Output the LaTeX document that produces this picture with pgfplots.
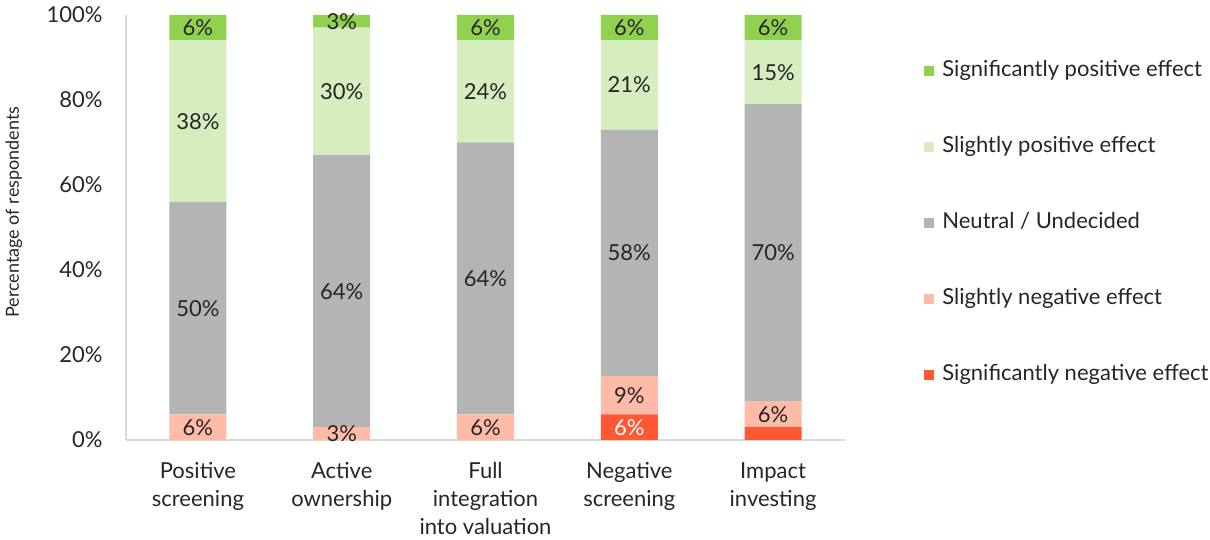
\documentclass[border=0pt]{standalone}
\usepackage{pgfplots}
\usepackage{pgfplotstable}
\pgfplotsset{compat=1.18}
\usepackage{fontspec}
\setmainfont{Lato}
\definecolor{spos}{HTML}{92D050}
\definecolor{wpos}{HTML}{D6EDC0}
\definecolor{neu}{HTML}{B4B4B4}
\definecolor{wneg}{HTML}{FFBAA8}
\definecolor{sneg}{HTML}{FF5833}
\definecolor{txt}{HTML}{262626}
\definecolor{axl}{HTML}{D9D9D9}
\pgfplotstableread{
x sneg wneg neu wpos spos
0 0 6 50 38 6
1 0 3 64 30 3
2 0 6 64 24 6
3 6 9 58 21 6
4 3 6 70 15 6
}\data
\pgfplotsset{
  lbl/.style={
    visualization depends on={\thisrow{#1} \as \rawy},
    point meta=\thisrow{#1},
    nodes near coords={\pgfmathprintnumber[fixed,precision=0]{\pgfplotspointmeta}\%},
    every node near coord/.append style={anchor=center, font=\fontsize{11}{13}\selectfont, text=txt},
  },
}
\begin{document}
\begin{tikzpicture}
\begin{axis}[
  scale only axis,
  width=359.5pt, height=212.5pt,
  ybar stacked, bar width=28.5pt,
  xmin=-0.5, xmax=4.5, ymin=0, ymax=100,
  enlargelimits=false,
  axis x line*=bottom, axis y line*=left,
  axis line style={draw=axl, line width=0.8pt, -},
  major tick length=0pt,
  xtick=data,
  xticklabels={{Positive\\screening},{Active\\ownership},{Full\\integration\\into valuation},{Negative\\screening},{Impact\\investing}},
  xticklabel style={align=center, anchor=north, inner sep=0pt, yshift=-11pt, font=\fontsize{11}{14}\selectfont, text=txt},
  ytick={0,20,40,60,80,100},
  yticklabel={\pgfmathprintnumber{\tick}\%},
  yticklabel style={anchor=east, inner sep=0pt, xshift=-11.5pt, font=\fontsize{11}{13}\selectfont, text=txt},
  /pgf/number format/assume math mode=true,
  ylabel={Percentage of respondents},
  every axis y label/.style={at={(axis description cs:-0.1558,0.536)}, rotate=90, anchor=center, font=\fontsize{9}{11}\selectfont, text=txt},
  legend style={at={(1.1015,0.5106)}, anchor=west, draw=none, fill=none,
    font=\fontsize{11}{13}\selectfont, text=txt, row sep=27.5pt, column sep=4pt,
    nodes={inner sep=0pt, text height=8pt, text depth=2.5pt}},
  legend cell align=left,
  reverse legend,
  legend image code/.code={\fill[#1] (0pt,-2.5pt) rectangle (5pt,2.5pt);},
]
\addplot[fill=sneg, draw=none,
  visualization depends on={\thisrow{sneg} \as \rawy},
  point meta=\thisrow{sneg},
  nodes near coords={\pgfmathparse{\rawy>4?1:0}\ifdim\pgfmathresult pt>0.5pt \pgfmathprintnumber[fixed,precision=0]{\pgfplotspointmeta}\%\fi},
  every node near coord/.append style={anchor=center, font=\fontsize{11}{13}\selectfont, text=white},
] table[x=x,y=sneg]{\data};
\addlegendentry{Significantly negative effect}
\addplot[fill=wneg, draw=none, lbl=wneg] table[x=x,y=wneg]{\data};
\addlegendentry{Slightly negative effect}
\addplot[fill=neu, draw=none, lbl=neu] table[x=x,y=neu]{\data};
\addlegendentry{Neutral / Undecided}
\addplot[fill=wpos, draw=none, lbl=wpos] table[x=x,y=wpos]{\data};
\addlegendentry{Slightly positive effect}
\addplot[fill=spos, draw=none, lbl=spos] table[x=x,y=spos]{\data};
\addlegendentry{Significantly positive effect}
\end{axis}
\pgfresetboundingbox
\path (-63pt,-50pt) rectangle (542pt,220pt);
\end{tikzpicture}
\end{document}
